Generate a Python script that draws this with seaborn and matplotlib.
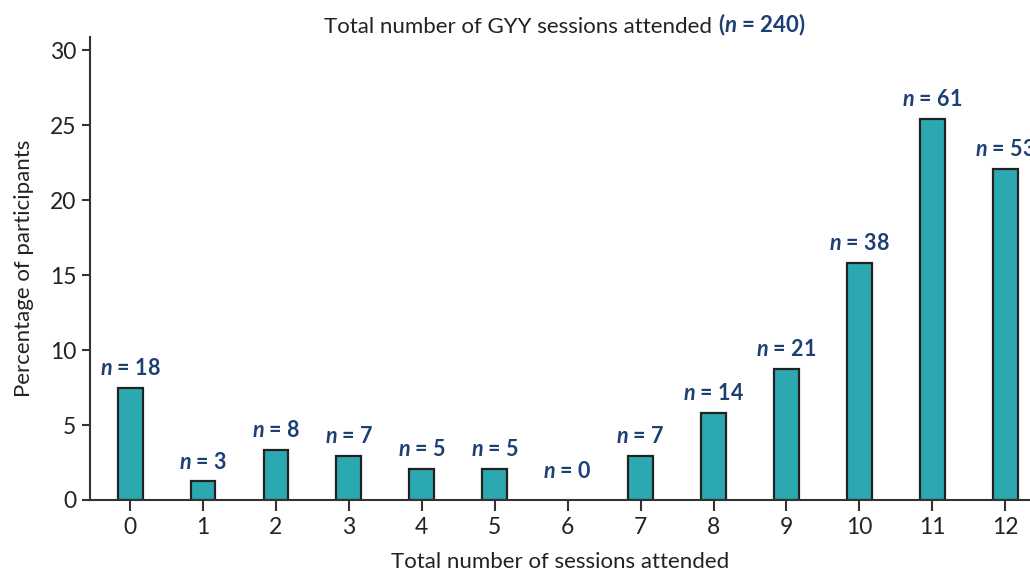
import matplotlib
matplotlib.use("Agg")
import matplotlib.pyplot as plt
import seaborn as sns
import pandas as pd
from matplotlib.offsetbox import TextArea, HPacker, AnchoredOffsetbox

sessions = [0, 1, 2, 3, 4, 5, 6, 7, 8, 9, 10, 11, 12]
counts = [18, 3, 8, 7, 5, 5, 0, 7, 14, 21, 38, 61, 53]
percent = [7.5, 1.25, 3.33, 2.92, 2.08, 2.08, 0.0, 2.92, 5.83, 8.75, 15.83, 25.42, 22.08]
total_n = 240

sns.set_theme(style="ticks")
plt.rcParams["font.family"] = ["Lato", "DejaVu Sans"]
plt.rcParams["mathtext.fontset"] = "custom"
plt.rcParams["mathtext.bfit"] = "Lato:italic:bold"
plt.rcParams["mathtext.it"] = "Lato:italic"
plt.rcParams["mathtext.rm"] = "Lato"

BAR = "#2ca8b0"
EDGE = "#222222"
BLUE = "#1d3f73"
TXT = "#222222"

df = pd.DataFrame({"sessions": sessions, "percent": percent, "n": counts})

fig = plt.figure(figsize=(10.3, 5.72), dpi=100)
ax = fig.add_axes([90 / 1030, 72 / 572, 1 - 90 / 1030, (500 - 37) / 572])

sns.barplot(data=df, x="sessions", y="percent", color=BAR, width=0.34,
            edgecolor=EDGE, linewidth=1.6, saturation=1, ax=ax)
for p in ax.patches:
    if p.get_height() == 0:
        p.set_linewidth(0)

ax.set_xlim(-0.55, 12.34)
ax.set_ylim(0, 30.9)
ax.set_yticks([0, 5, 10, 15, 20, 25, 30])

for i, (v, n) in enumerate(zip(percent, counts)):
    off = 6.3 if v > 0 else 13
    ax.annotate(r"$\mathbfit{n}$ = %d" % n, xy=(i, v), xytext=(0, off),
                textcoords="offset points", ha="center", va="bottom",
                fontsize=15.5, fontweight="bold", color=BLUE, annotation_clip=False)

for s in ["top", "right"]:
    ax.spines[s].set_visible(False)
for s in ["left", "bottom"]:
    ax.spines[s].set_color("#333333")
    ax.spines[s].set_linewidth(1.5)

ax.tick_params(axis="both", colors="#333333", labelcolor=TXT, labelsize=16.5, width=1.5)
ax.tick_params(axis="y", length=6, pad=4)
ax.tick_params(axis="x", length=8, pad=4)

ax.set_xlabel("Total number of sessions attended", fontsize=16, color=TXT, labelpad=10.5)
ax.set_ylabel("Percentage of participants", fontsize=16, color=TXT, labelpad=11)

t1 = TextArea("Total number of GYY sessions attended",
              textprops=dict(fontsize=16, color=TXT))
t2 = TextArea(r"($\mathbfit{n}$ = %d)" % total_n,
              textprops=dict(fontsize=16, color=BLUE, fontweight="bold"))
pack = HPacker(children=[t1, t2], pad=0, sep=4, align="baseline")
box = AnchoredOffsetbox(loc="lower center", child=pack, pad=0, borderpad=0,
                        bbox_to_anchor=(0.505, 0.997), bbox_transform=ax.transAxes,
                        frameon=False)
ax.add_artist(box)

fig.savefig("out.png", dpi=100)
